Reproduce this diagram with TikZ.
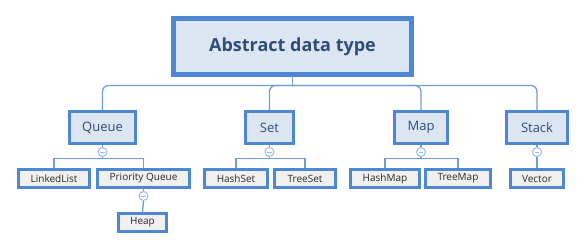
\documentclass[tikz,border=0pt]{standalone}
\usepackage{fontspec}
\setmainfont{Open Sans}
\usetikzlibrary{backgrounds}
\definecolor{bord}{HTML}{4F88D2}
\definecolor{wire}{HTML}{6E9DDA}
\definecolor{ring}{HTML}{9BBBE8}
\definecolor{topfill}{HTML}{DCE6F2}
\definecolor{leaffill}{HTML}{F0F0F0}
\definecolor{topink}{HTML}{2E4D78}
\definecolor{leafink}{HTML}{2A2A2A}
\tikzset{
  rootbox/.style={draw=bord, line width=5pt, fill=topfill, text=topink, inner sep=0pt,
    minimum width=238pt, minimum height=56pt, font=\fontsize{18}{20}\selectfont\bfseries},
  midbox/.style={draw=bord, line width=3pt, fill=topfill, text=topink, inner sep=0pt,
    minimum height=32pt, font=\fontsize{13}{15}\selectfont},
  leafbox/.style={draw=bord, line width=3pt, fill=leaffill, text=leafink, inner sep=0pt,
    minimum height=18pt, font=\fontsize{10}{12}\selectfont},
  wireline/.style={draw=wire, line width=1.3pt},
  toggle/.style={circle, draw=ring, line width=1pt, fill=white, minimum size=9pt, inner sep=0pt,
    path picture={\draw[ring, line width=1pt] ([xshift=-2.2pt]path picture bounding box.center) -- ([xshift=2.2pt]path picture bounding box.center);}},
}
\begin{document}
\begin{tikzpicture}[x=1pt,y=-1pt]
\useasboundingbox (0,0) rectangle (586,250);
% nodes
\node[rootbox] (root) at (292.5,46.5) {Abstract data type};
\node[midbox, minimum width=66pt] (queue) at (102.5,127.5) {Queue};
\node[midbox, minimum width=48pt] (set) at (269.5,127.5) {Set};
\node[midbox, minimum width=53pt] (map) at (421,127.5) {Map};
\node[midbox, minimum width=61pt] (stack) at (537,127.5) {Stack};
\node[leafbox, minimum width=71pt] (linked) at (54,178.5) {LinkedList};
\node[leafbox, minimum width=92pt] (pq) at (143.5,178.5) {Priority Queue};
\node[leafbox, minimum width=48pt] (heap) at (142.5,222.5) {Heap};
\node[leafbox, minimum width=63pt] (hashset) at (236,178.5) {HashSet};
\node[leafbox, minimum width=61pt] (treeset) at (305,178.5) {TreeSet};
\node[leafbox, minimum width=69pt] (hashmap) at (385,178.5) {HashMap};
\node[leafbox, minimum width=65pt] (treemap) at (458,178.5) {TreeMap};
\node[leafbox, minimum width=53pt] (vector) at (537,178.5) {Vector};
% toggles
\node[toggle] (tq) at (102.5,152) {};
\node[toggle] (ts) at (269.5,152) {};
\node[toggle] (tm) at (421,152) {};
\node[toggle] (tk) at (537,152) {};
\node[toggle] (tp) at (143.5,196) {};
\coordinate (bus) at (292.5,85.5);
\coordinate (qb) at (102.5,158.5);
\coordinate (sb) at (269.5,158.5);
\coordinate (mb) at (421,158.5);
\begin{scope}[on background layer]
\draw[wireline] (root.south) -- (bus);
\foreach \c in {queue,set,map,stack}{
  \draw[wireline, rounded corners=6pt] (\c.north) |- (bus);
}
\draw[wireline] (queue.south) -- (tq.north);
\draw[wireline] (set.south) -- (ts.north);
\draw[wireline] (map.south) -- (tm.north);
\draw[wireline] (stack.south) -- (tk.north);
\draw[wireline] (pq.south) -- (tp.north);
\draw[wireline] (tq.south) -- (qb) -| (linked.north);
\draw[wireline] (qb) -| (pq.north);
\draw[wireline] (ts.south) -- (sb) -| (hashset.north);
\draw[wireline] (sb) -| (treeset.north);
\draw[wireline] (tm.south) -- (mb) -| (hashmap.north);
\draw[wireline] (mb) -| (treemap.north);
\draw[wireline] (tk.south) -- (vector.north);
\draw[wireline] (tp.south) -- (heap.north);
\end{scope}
\end{tikzpicture}
\end{document}
